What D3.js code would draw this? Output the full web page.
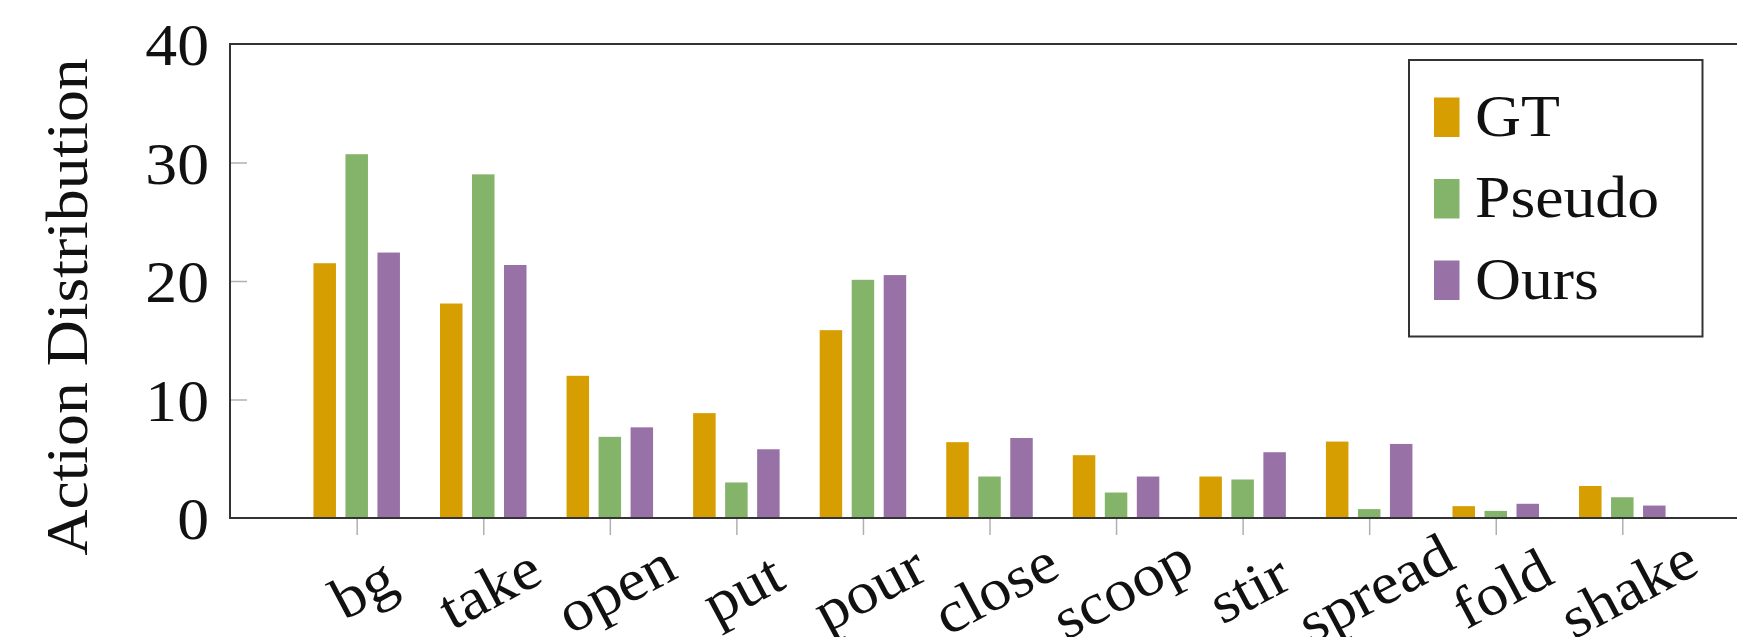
<!DOCTYPE html>
<html>
<head>
<meta charset="utf-8">
<script src="https://cdn.jsdelivr.net/npm/d3@7/dist/d3.min.js"></script>
<style>
  html, body { margin: 0; padding: 0; background: #fff; }
  svg { display: block; }
  text { font-family: "Liberation Serif", "DejaVu Serif", serif; fill: #111; }
</style>
</head>
<body>
<svg id="chart" width="1737" height="637"></svg>
<script>
const categories = ["bg", "take", "open", "put", "pour", "close", "scoop", "stir", "spread", "fold", "shake"];
const seriesNames = ["GT", "Pseudo", "Ours"];
const gtValues     = [21.5, 18.1, 12.0, 8.85, 15.85, 6.4, 5.3, 3.5, 6.45, 1.0, 2.7];
const pseudoValues = [30.7, 29.0, 6.85, 3.0, 20.1, 3.5, 2.15, 3.25, 0.75, 0.6, 1.75];
const oursValues   = [22.4, 21.35, 7.65, 5.8, 20.5, 6.75, 3.5, 5.55, 6.25, 1.2, 1.05];
const yTicks = [0, 10, 20, 30, 40];
const colors = ["#d69e00", "#84b36a", "#9872a6"];

(function () {
const values = [gtValues, pseudoValues, oursValues];

const svg = d3.select("#chart");
const mLeft = 230, mTop = 44, mBottom = 518, mRight = 1760;
const fs = 59;
const sx = "scale(1.08,1)";

const x = d3.scalePoint().domain(categories).range([356.7, 1622.3]);
const x1 = d3.scaleBand().domain(seriesNames).range([-43.25, 43.25]).paddingInner(0.297).paddingOuter(0);
const y = d3.scaleLinear().domain([0, 40]).range([mBottom, mTop]);

// bars
seriesNames.forEach((s, si) => {
  svg.append("g").selectAll("rect")
    .data(categories.map((c, i) => ({ c, v: values[si][i] })))
    .join("rect")
    .attr("x", d => x(d.c) + x1(s))
    .attr("width", x1.bandwidth())
    .attr("y", d => y(d.v))
    .attr("height", d => y(0) - y(d.v))
    .attr("fill", colors[si]);
});

// y ticks (inside, grey)
const yAxis = d3.axisLeft(y).tickValues(yTicks.filter(t => t > 0 && t < 40)).tickSize(-17).tickFormat("");
const yg = svg.append("g").attr("transform", `translate(${mLeft},0)`).call(yAxis);
yg.select(".domain").remove();
yg.selectAll(".tick line").attr("stroke", "#b0b0b0").attr("stroke-width", 1.5);

// y tick labels
svg.append("g").selectAll("text")
  .data(yTicks).join("text")
  .attr("transform", d => `translate(209,${y(d) + 21}) ${sx}`)
  .attr("text-anchor", "end")
  .attr("font-size", fs)
  .text(d => d);

// x ticks (outside, grey)
const xAxis = d3.axisBottom(x).tickSize(17).tickFormat("");
const xg = svg.append("g").attr("transform", `translate(0,${mBottom})`).call(xAxis);
xg.select(".domain").remove();
xg.selectAll(".tick line").attr("stroke", "#b0b0b0").attr("stroke-width", 1.5);

// x tick labels rotated
svg.append("g").selectAll("text")
  .data(categories).join("text")
  .attr("transform", d => `translate(${x(d) + 6},${588}) rotate(-28) ${sx}`)
  .attr("text-anchor", "middle")
  .attr("dominant-baseline", "central")
  .attr("font-size", fs)
  .text(d => d);

// axis frame
svg.append("rect")
  .attr("x", mLeft).attr("y", mTop)
  .attr("width", mRight - mLeft).attr("height", mBottom - mTop)
  .attr("fill", "none").attr("stroke", "#333").attr("stroke-width", 2);

// y axis label
svg.append("text")
  .attr("transform", `translate(87,307) rotate(-90) ${sx}`)
  .attr("text-anchor", "middle")
  .attr("font-size", fs)
  .text("Action Distribution");

// legend
const lg = svg.append("g");
lg.append("rect")
  .attr("x", 1409).attr("y", 60).attr("width", 293.5).attr("height", 276.5)
  .attr("fill", "#fff").attr("stroke", "#333").attr("stroke-width", 2);
const legendY = [97.5, 179, 260.5];
seriesNames.forEach((s, i) => {
  lg.append("rect")
    .attr("x", 1434).attr("y", legendY[i]).attr("width", 25.5).attr("height", 39.5)
    .attr("fill", colors[i]);
  lg.append("text")
    .attr("transform", `translate(1475,${legendY[i] + 38}) ${sx}`)
    .attr("font-size", fs)
    .text(s);
});
})();
</script>
</body>
</html>
